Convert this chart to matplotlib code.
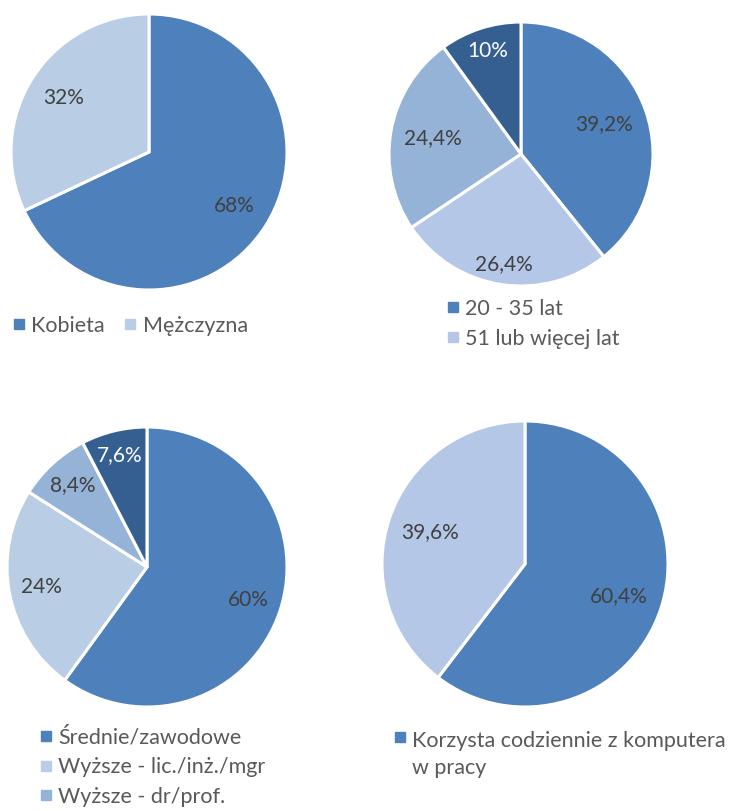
import numpy as np
import matplotlib
matplotlib.use("Agg")
import matplotlib.pyplot as plt
from matplotlib.lines import Line2D
from matplotlib.legend_handler import HandlerLine2D

plt.rcParams['font.family'] = ['Lato', 'DejaVu Sans']

# --- data ---
gender_labels = ["Kobieta", "Mężczyzna"]
gender_values = [68, 32]

age_labels = ["20 - 35 lat", "51 lub więcej lat"]
age_values = [39.2, 26.4, 24.4, 10.0]

edu_labels = ["Średnie/zawodowe", "Wyższe - lic./inż./mgr", "Wyższe - dr/prof."]
edu_values = [60, 24, 8.4, 7.6]

pc_labels = ["Korzysta codziennie z komputera\nw pracy"]
pc_values = [60.4, 39.6]

# --- styling ---
MID = "#4e80bc"
LIGHT = "#b9cde5"
LAV = "#b4c7e7"
SOFT = "#95b3d7"
DARK = "#355f91"
TXT = "#404040"
LEG_TXT = "#595959"

W, H = 732, 811
fig = plt.figure(figsize=(W / 100, H / 100), dpi=100)


class LiftedMarker(HandlerLine2D):
    """Legend marker shifted up so it sits beside the first line of a wrapped label."""

    def __init__(self, lift=0.0, **kw):
        super().__init__(**kw)
        self.lift = lift

    def create_artists(self, legend, orig_handle, xdescent, ydescent, width, height,
                       fontsize, trans):
        artists = super().create_artists(legend, orig_handle, xdescent, ydescent,
                                         width, height, fontsize, trans)
        for a in artists:
            a.set_ydata(np.asarray(a.get_ydata(), dtype=float) + self.lift)
        return artists


def fmt(v):
    s = ("%.1f" % v).rstrip("0").rstrip(".")
    return s.replace(".", ",") + "%"


def draw_pie(cx, cy, r, values, colors, label_r, label_colors):
    ax = fig.add_axes([(cx - r) / W, (H - cy - r) / H, 2 * r / W, 2 * r / H])
    wedges, texts = ax.pie(values, colors=colors, startangle=90, counterclock=False,
                           radius=1.0,
                           wedgeprops=dict(edgecolor="white", linewidth=2.2))
    for w, v, lr, lc in zip(wedges, values, label_r, label_colors):
        ang = np.deg2rad((w.theta1 + w.theta2) / 2)
        ax.text(lr * np.cos(ang), lr * np.sin(ang), fmt(v), ha="center", va="center",
                fontsize=15, color=lc)
    ax.set_xlim(-1.0, 1.0)
    ax.set_ylim(-1.0, 1.0)
    ax.set_aspect("equal")
    ax.axis("off")
    return ax


def legend(labels, colors, x, y, ncol=1, spacing=0.45, colsp=1.0, lift=0.0):
    handles = [Line2D([], [], marker="s", linestyle="none", markersize=7,
                      markerfacecolor=c, markeredgecolor=c) for c in colors]
    leg = fig.legend(handles, labels, loc="upper left", bbox_to_anchor=(x / W, 1 - y / H),
                     ncol=ncol, frameon=False, fontsize=15.5, handlelength=0.55,
                     handletextpad=0.3, labelspacing=spacing, columnspacing=colsp,
                     labelcolor=LEG_TXT, borderaxespad=0, borderpad=0,
                     handler_map={Line2D: LiftedMarker(lift=lift)})
    for t in leg.get_texts():
        t.set_linespacing(1.45)
    return leg


draw_pie(149, 152, 138, gender_values, [MID, LIGHT], [0.73, 0.73], [TXT, TXT])
draw_pie(521, 154, 132, age_values, [MID, LAV, SOFT, DARK],
         [0.67, 0.84, 0.68, 0.82], [TXT, TXT, TXT, "white"])
draw_pie(147, 567, 140, edu_values, [MID, LIGHT, SOFT, DARK],
         [0.76, 0.77, 0.79, 0.82], [TXT, TXT, TXT, "white"])
draw_pie(525, 564, 143, pc_values, [MID, LAV], [0.69, 0.70], [TXT, TXT])

legend(gender_labels, [MID, LIGHT], 13, 316, ncol=2, colsp=0.9)
legend(age_labels, [MID, LAV], 447, 299)
legend(edu_labels, [MID, LIGHT, SOFT], 40, 727)
legend(pc_labels, [MID], 394, 731, lift=13)

fig.savefig("out.png", dpi=100, facecolor="white")
